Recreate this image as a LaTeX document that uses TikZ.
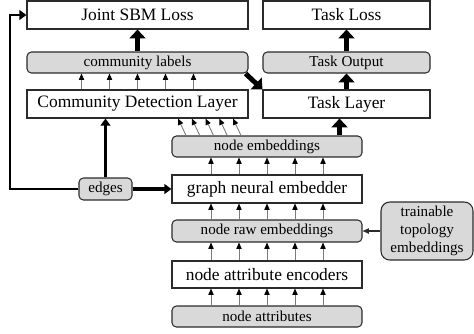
\documentclass[tikz,border=0pt]{standalone}
\usepackage{fontspec}
\setmainfont{Liberation Serif}
\usepackage{tikz}
\usetikzlibrary{arrows.meta,positioning,calc}
\definecolor{cGryF}{HTML}{D9D9D9}
\definecolor{cGryL}{HTML}{2B2B2B}
\definecolor{cThin}{HTML}{7A7A7A}
\newcommand{\bigtxt}{\fontsize{9.9}{11.5}\selectfont}
\newcommand{\smtxt}{\fontsize{8.6}{10.4}\selectfont}

\begin{document}
\begin{tikzpicture}[x=1cm,y=1cm,
  blk/.style={draw=cGryL,line width=0.6pt,fill=white,font=\bigtxt,inner sep=0pt,
    minimum width=4.42cm,minimum height=0.56cm},
  gblk/.style={blk,fill=cGryF,rounded corners=2.5pt,font=\smtxt,minimum height=0.42cm},
  thin/.style={-{Triangle[length=3.6pt,width=3pt,black]},line width=0.5pt,draw=cThin},
  fat/.style={-{Triangle[length=5pt,width=9pt]},line width=2.8pt},
  mid/.style={-{Triangle[length=4pt,width=5.5pt]},line width=1.4pt}]

  \useasboundingbox (0,0) rectangle (9.48,-6.66);

  % left column
  \node[blk] (jsbm) at (2.75,-0.30) {Joint SBM Loss};
  \node[gblk] (clab) at (2.75,-1.25) {community labels};
  \node[blk] (cdl) at (2.75,-2.08) {Community Detection Layer};

  % right column
  \node[blk,minimum width=3.34cm] (tloss) at (6.93,-0.30) {Task Loss};
  \node[gblk,minimum width=3.34cm] (tout) at (6.93,-1.25) {Task Output};
  \node[blk,minimum width=3.34cm] (tlay) at (6.93,-2.08) {Task Layer};

  % embedder stack
  \node[gblk,minimum width=3.80cm] (nemb) at (5.34,-2.93) {node embeddings};
  \node[blk,minimum width=3.80cm] (gne) at (5.34,-3.78) {graph neural embedder};
  \node[gblk,minimum width=3.80cm,minimum height=0.44cm] (nraw) at (5.34,-4.62) {node raw embeddings};
  \node[blk,minimum width=3.80cm,minimum height=0.54cm] (nenc) at (5.34,-5.49) {node attribute encoders};
  \node[gblk,minimum width=3.80cm] (nattr) at (5.34,-6.33) {node attributes};

  \node[gblk,minimum width=1.06cm,minimum height=0.44cm] (edges) at (2.11,-3.78) {edges};
  \node[gblk,minimum width=1.84cm,minimum height=1.16cm,rounded corners=5pt,align=center]
    (topo) at (8.54,-4.62) {trainable\\topology\\embeddings};

  % thin parallel arrows
  \foreach \dx in {-1.12,-0.56,0,0.56,1.12} {
    \draw[thin] ([xshift=\dx cm]cdl.north) -- ([xshift=\dx cm]clab.south);
    \draw[thin] ([xshift=\dx cm]gne.north) -- ([xshift=\dx cm]nemb.south);
    \draw[thin] ([xshift=\dx cm]nraw.north) -- ([xshift=\dx cm]gne.south);
    \draw[thin] ([xshift=\dx cm]nenc.north) -- ([xshift=\dx cm]nraw.south);
    \draw[thin] ([xshift=\dx cm]nattr.north) -- ([xshift=\dx cm]nenc.south);
  }
  \foreach \i in {0,...,4}
    \draw[thin] ($(nemb.north)+({-1.62+0.275*\i},0)$) -- ($(cdl.south)+({0.81+0.275*\i},0)$);
  \draw[-{Triangle[length=3.6pt,width=3pt]},line width=0.6pt,draw=cGryL] (topo.west) -- (nraw.east);

  % thick arrows
  \draw[fat] (clab.north) -- (jsbm.south);
  \draw[fat] (tout.north) -- (tloss.south);
  \draw[fat] (tlay.north) -- (tout.south);
  \draw[fat] ([xshift=-0.46cm]nemb.north east) -- ([xshift=-0.46cm]nemb.north east |- tlay.south);
  \draw[fat] ([xshift=-0.06cm]clab.south east) -- (tlay.north west);

  % edges
  \coordinate (lc) at (0.20,-0.30);
  \draw[mid,line width=1.3pt] (edges.west) -| (lc) -- (jsbm.west);
  \draw[mid,line width=1.8pt] (edges.north) -- (edges.north |- cdl.south);
  \draw[mid,line width=2.2pt] (edges.east) -- (gne.west);
\end{tikzpicture}
\end{document}
